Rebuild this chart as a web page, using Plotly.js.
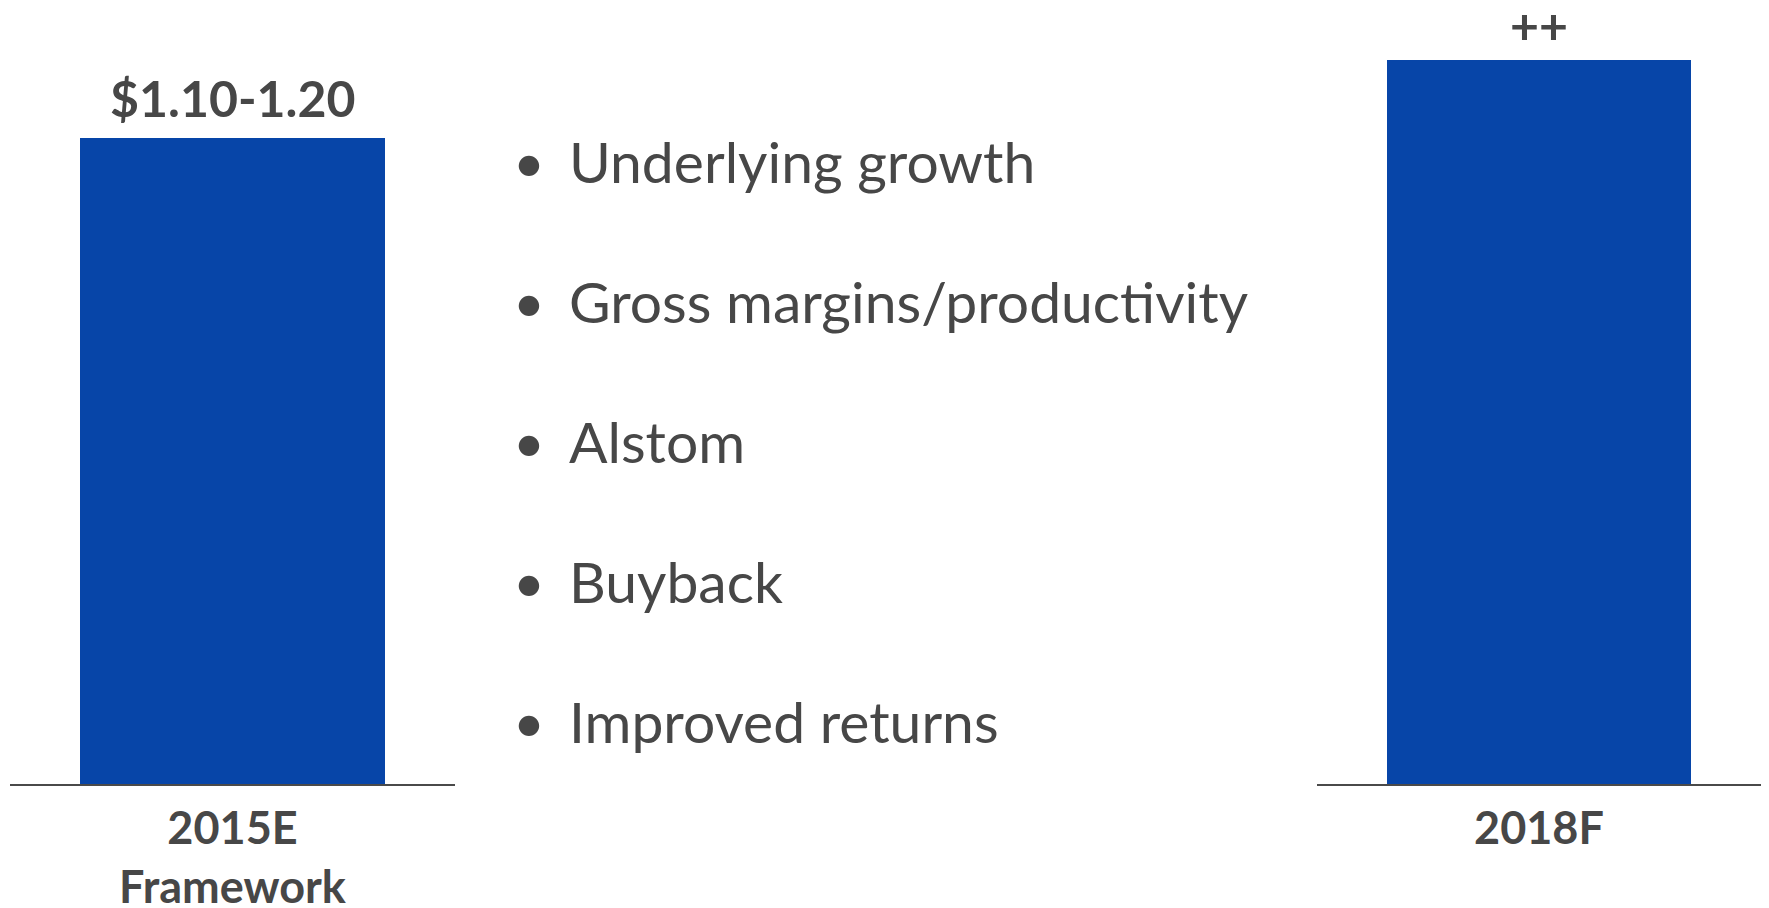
<!DOCTYPE html>
<html>
<head>
<meta charset="utf-8">
<script src="https://cdn.plot.ly/plotly-3.0.1.min.js"></script>
<style>
  html, body { margin: 0; padding: 0; background: #ffffff; }
  #chart { width: 1769px; height: 908px; }
</style>
</head>
<body>
<div id="chart"></div>
<script>
// ---- data ----
const leftCategories = ["2015E<br>Framework"];
const leftValues = [1.15];
const leftLabels = ["$1.10-1.20"];

const rightCategories = ["2018F"];
const rightValues = [1.29];
const rightLabels = ["++"];

const bulletItems = [
  "Underlying growth",
  "Gross margins/productivity",
  "Alstom",
  "Buyback",
  "Improved returns"
];

const yMax = 1.396;

// ---- styles ----
const BAR_COLOR = "#0745a8";
const TEXT_COLOR = "#474747";
const LINE_COLOR = "#4a4a4a";
const FONT = "Lato, 'Open Sans', sans-serif";
const W = 1769, H = 908;
const MB = 124; // bottom margin -> baseline at 784px
const plotH = H - MB;

const traces = [
  {
    type: "bar", x: leftCategories, y: leftValues, xaxis: "x", yaxis: "y",
    marker: { color: BAR_COLOR, line: { width: 0 } }, width: 0.685,
    hoverinfo: "skip"
  },
  {
    type: "bar", x: rightCategories, y: rightValues, xaxis: "x2", yaxis: "y2",
    marker: { color: BAR_COLOR, line: { width: 0 } }, width: 0.685,
    hoverinfo: "skip"
  }
];

const annotations = [];
leftCategories.forEach((c, i) => annotations.push({
  x: c, y: leftValues[i], xref: "x", yref: "y", text: leftLabels[i],
  showarrow: false, xanchor: "center", yanchor: "bottom", yshift: 8,
  font: { family: FONT, size: 50, color: TEXT_COLOR, weight: 700 }
}));
rightCategories.forEach((c, i) => annotations.push({
  x: c, y: rightValues[i], xref: "x2", yref: "y2", text: rightLabels[i],
  showarrow: false, xanchor: "center", yanchor: "bottom", yshift: 3,
  font: { family: FONT, size: 50, color: TEXT_COLOR, weight: 700 }
}));

// bullet list (pixel layout converted to paper coordinates)
const bulletTop = 161, bulletStep = 140, bulletX = 529, textX = 567;
bulletItems.forEach((t, i) => {
  const py = bulletTop + i * bulletStep;
  const yp = (plotH - py) / plotH;
  annotations.push({
    xref: "paper", yref: "paper", x: bulletX / W, y: yp,
    text: "•", showarrow: false, xanchor: "center", yanchor: "middle",
    font: { family: FONT, size: 55, color: TEXT_COLOR }
  });
  annotations.push({
    xref: "paper", yref: "paper", x: textX / W, y: yp,
    text: t, showarrow: false, xanchor: "left", yanchor: "middle",
    font: { family: FONT, size: 57, color: TEXT_COLOR }
  });
});

const xaxisCommon = {
  type: "category", range: [-0.5, 0.5], showgrid: false, zeroline: false,
  showline: true, linecolor: LINE_COLOR, linewidth: 2, ticks: "",
  ticklabelstandoff: 4,
  tickfont: { family: FONT, size: 45, color: TEXT_COLOR, weight: 700 },
  fixedrange: true
};
const yaxisCommon = {
  range: [0, yMax], visible: false, showgrid: false, zeroline: false, fixedrange: true
};

const layout = {
  width: W, height: H,
  margin: { l: 0, r: 0, t: 0, b: MB },
  paper_bgcolor: "#ffffff", plot_bgcolor: "#ffffff",
  showlegend: false, bargap: 0,
  xaxis: Object.assign({}, xaxisCommon, { domain: [10 / W, 455 / W], anchor: "y" }),
  xaxis2: Object.assign({}, xaxisCommon, { domain: [1317 / W, 1761 / W], anchor: "y2" }),
  yaxis: Object.assign({}, yaxisCommon, { anchor: "x" }),
  yaxis2: Object.assign({}, yaxisCommon, { anchor: "x2" }),
  annotations: annotations
};

Plotly.newPlot("chart", traces, layout, { displayModeBar: false, staticPlot: true });
</script>
</body>
</html>
